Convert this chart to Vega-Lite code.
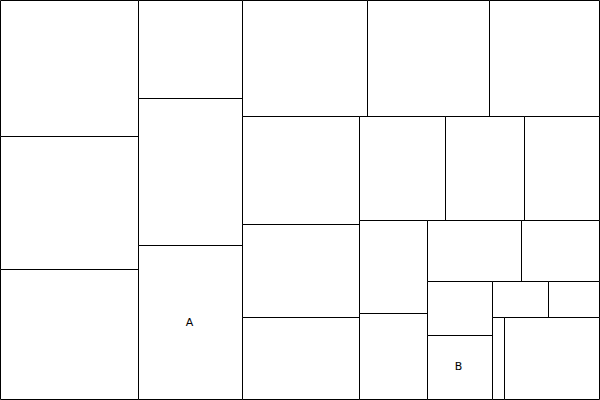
{
  "$schema": "https://vega.github.io/schema/vega-lite/v6.json",
  "width": 600,
  "height": 400,
  "padding": 0,
  "autosize": {"type": "none"},
  "background": "white",
  "config": {"view": {"stroke": null}},
  "data": {
    "values": [
      {"x0": 0, "x1": 138, "y0": 0, "y1": 136, "label": ""},
      {"x0": 0, "x1": 138, "y0": 136, "y1": 269, "label": ""},
      {"x0": 0, "x1": 138, "y0": 269, "y1": 399, "label": ""},
      {"x0": 138, "x1": 242, "y0": 0, "y1": 98, "label": ""},
      {"x0": 138, "x1": 242, "y0": 98, "y1": 245, "label": ""},
      {"x0": 138, "x1": 242, "y0": 245, "y1": 399, "label": "A", "lx": 189, "ly": 322},
      {"x0": 242, "x1": 367, "y0": 0, "y1": 116, "label": ""},
      {"x0": 367, "x1": 489, "y0": 0, "y1": 116, "label": ""},
      {"x0": 489, "x1": 599, "y0": 0, "y1": 116, "label": ""},
      {"x0": 242, "x1": 359, "y0": 116, "y1": 224, "label": ""},
      {"x0": 242, "x1": 359, "y0": 224, "y1": 317, "label": ""},
      {"x0": 242, "x1": 359, "y0": 317, "y1": 399, "label": ""},
      {"x0": 359, "x1": 445, "y0": 116, "y1": 220, "label": ""},
      {"x0": 445, "x1": 524, "y0": 116, "y1": 220, "label": ""},
      {"x0": 524, "x1": 599, "y0": 116, "y1": 220, "label": ""},
      {"x0": 359, "x1": 427, "y0": 220, "y1": 313, "label": ""},
      {"x0": 359, "x1": 427, "y0": 313, "y1": 399, "label": ""},
      {"x0": 427, "x1": 521, "y0": 220, "y1": 281, "label": ""},
      {"x0": 521, "x1": 599, "y0": 220, "y1": 281, "label": ""},
      {"x0": 427, "x1": 492, "y0": 281, "y1": 335, "label": ""},
      {"x0": 427, "x1": 492, "y0": 335, "y1": 399, "label": "B", "lx": 458, "ly": 366},
      {"x0": 492, "x1": 548, "y0": 281, "y1": 317, "label": ""},
      {"x0": 548, "x1": 599, "y0": 281, "y1": 317, "label": ""},
      {"x0": 492, "x1": 504, "y0": 317, "y1": 399, "label": ""},
      {"x0": 504, "x1": 599, "y0": 317, "y1": 399, "label": ""}
    ]
  },
  "layer": [
    {
      "mark": {"type": "rect", "fill": "white", "stroke": "black", "strokeWidth": 1},
      "encoding": {
        "x": {"field": "x0", "type": "quantitative", "axis": null, "scale": {"domain": [-0.5, 599.5], "nice": false, "zero": false}},
        "x2": {"field": "x1"},
        "y": {"field": "y0", "type": "quantitative", "axis": null, "scale": {"domain": [-0.5, 399.5], "nice": false, "zero": false, "reverse": true}},
        "y2": {"field": "y1"}
      }
    },
    {
      "transform": [{"filter": "datum.label != ''"}],
      "mark": {"type": "text", "font": "DejaVu Sans", "fontSize": 11, "align": "center", "baseline": "middle", "color": "black"},
      "encoding": {
        "x": {"field": "lx", "type": "quantitative"},
        "y": {"field": "ly", "type": "quantitative"},
        "text": {"field": "label"}
      }
    }
  ]
}
